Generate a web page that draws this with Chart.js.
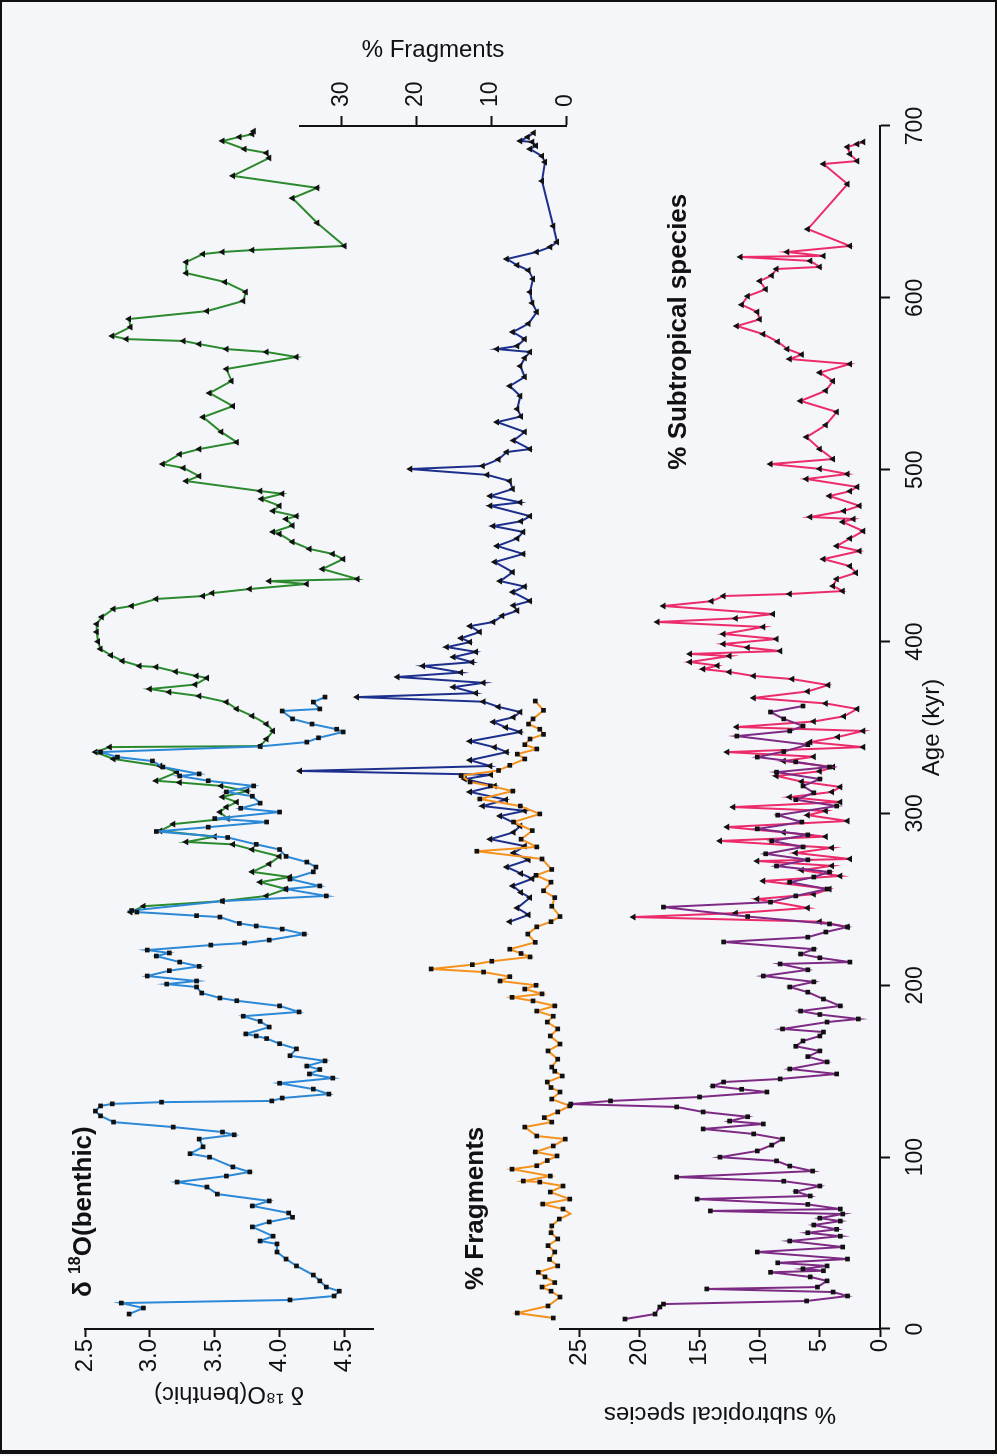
<!DOCTYPE html>
<html>
<head>
<meta charset="utf-8">
<script src="https://cdn.jsdelivr.net/npm/chart.js@4.4.0/dist/chart.umd.min.js"></script>
<style>
  html, body { margin: 0; padding: 0; background: #f5f6f9; }
  #page { position: relative; width: 997px; height: 1456px; overflow: hidden; }
  #frame { position: absolute; left: 0; top: 0; width: 997px; height: 1454px; box-sizing: border-box;
           border: 2px solid #111; border-bottom-width: 4px; }
  /* the figure is drawn landscape and turned a quarter left, like the scan */
  #land { position: absolute; left: 0; top: 0; width: 1456px; height: 997px;
          transform-origin: 0 0; transform: translateY(1456px) rotate(-90deg); }
  #land canvas { position: absolute; left: 0; top: 0; }
</style>
</head>
<body>
<div id="page">
  <div id="land">
    <canvas id="cSub" width="1456" height="997"></canvas>
    <canvas id="cFrag" width="1456" height="997"></canvas>
    <canvas id="cO18" width="1456" height="997"></canvas>
  </div>
  <div id="frame"></div>
</div>
<script>
// ---- data (age in kyr) ----
const ageTicks = [0, 100, 200, 300, 400, 500, 600, 700];
const o18Ticks = [2.5, 3.0, 3.5, 4.0, 4.5];
const fragTicks = [0, 10, 20, 30];
const subTicks = [0, 5, 10, 15, 20, 25];

const o18BlueAge = [8.7, 12.2, 15.1, 16.9, 19.2, 22.0, 24.4, 28.0, 31.4, 36.7, 40.7, 44.8, 49.5, 51.2, 54.0, 59.4, 62.3, 65.0, 67.5, 71.6,
  74.5, 78.5, 82.6, 85.5, 89.0, 91.4, 94.3, 100, 102, 106, 110.5, 113, 114.6, 117.5, 120.4, 124, 126.8, 129.8, 131, 132,
  132.7, 134.4, 136.7, 139.6, 143, 146, 148.4, 151, 153, 156, 159, 163, 166, 169, 170.5, 171.7, 175.7, 179, 182, 184.5,
  188, 191, 192.6, 195.5, 199, 200.7, 202.5, 205.4, 208.5, 211, 213.5, 217, 218.8, 220.5, 223.4, 224.6, 226.3, 229.8, 232.7, 234.5,
  236, 239.7, 240.5, 242.6, 243.5, 249, 252, 256, 257.8, 261.8, 266, 268.8, 271.7, 275, 279, 282, 286, 289.5, 292, 295,
  297, 300.8, 303, 306, 310, 312.5, 316, 319, 321.8, 323, 327, 330.5, 332.8, 335.7, 339, 341.5, 344, 347.4, 349, 352,
  355, 359.6, 360.8, 364.8, 367.7];
const o18BlueVal = [2.84, 2.95, 2.78, 4.08, 4.42, 4.46, 4.36, 4.31, 4.26, 4.13, 4.05, 3.98, 3.98, 3.85, 3.95, 3.79, 3.92, 4.10, 4.07, 3.79,
  3.92, 3.52, 3.44, 3.21, 3.59, 3.77, 3.64, 3.46, 3.31, 3.41, 3.38, 3.65, 3.56, 3.18, 2.72, 2.62, 2.58, 2.62, 2.71, 3.09,
  3.94, 4.02, 4.38, 4.26, 4.00, 4.41, 4.23, 4.31, 4.21, 4.35, 4.08, 4.13, 4.00, 3.90, 3.82, 3.74, 3.92, 3.85, 3.72, 4.15,
  4.00, 3.67, 3.54, 3.40, 3.36, 3.13, 3.36, 2.98, 3.15, 3.38, 3.23, 3.05, 3.15, 2.98, 3.47, 3.73, 3.92, 4.19, 4.02, 3.82,
  3.69, 3.54, 3.36, 2.90, 2.86, 3.56, 4.36, 4.05, 4.31, 4.08, 4.26, 4.28, 4.21, 4.05, 4.00, 3.82, 3.60, 3.05, 3.45, 3.90,
  3.50, 4.00, 3.70, 3.85, 3.79, 3.59, 3.80, 3.45, 3.23, 3.38, 3.10, 3.02, 2.75, 2.62, 3.85, 4.21, 4.30, 4.49, 4.44, 4.25,
  4.10, 4.02, 4.31, 4.26, 4.35];

const o18GreenAge = [242.6, 246, 249, 252, 256, 260, 263, 266, 270.6, 275, 279, 282, 283.4, 286.5, 289.8, 293.8, 297, 300.8, 303.7, 306.6,
  309.6, 313, 316, 318, 319, 324, 327.6, 331.7, 335.7, 338.6, 339.2, 343.3, 348, 352, 356.7, 360.8, 364.8, 368.3, 370.6, 372.4,
  375, 378.8, 380, 382.5, 385.2, 385.8, 388.7, 392, 395.7, 400, 405.6, 410.2, 414.3, 419, 420.7, 424.8, 426.5, 428.2, 430.6, 433.5,
  435.2, 436.4, 442.2, 448, 451, 453.9, 458, 462.6, 463.8, 467.5, 471.3, 473, 476, 479, 483, 486, 487.6, 493.4, 496.3, 501,
  503.3, 509, 512, 516, 522, 530.6, 537, 544.6, 551.6, 558.6, 565.6, 568.5, 570.2, 573.1, 574.9, 576, 577.8, 583, 587.7, 592.3,
  598.2, 603.4, 609.2, 614.4, 620.8, 625.5, 626.7, 627.8, 630.2, 643.6, 658, 664, 671, 681.4, 684.3, 686.6, 691.3, 693.6, 695.3, 697];
const o18GreenVal = [2.85, 2.95, 3.56, 3.90, 4.05, 3.85, 4.08, 3.79, 3.92, 4.00, 3.79, 3.64, 3.28, 3.50, 3.08, 3.18, 3.60, 3.54, 3.59, 3.67,
  3.56, 3.75, 3.55, 3.23, 3.05, 3.21, 3.08, 2.72, 2.58, 2.69, 3.85, 3.90, 3.95, 3.90, 3.79, 3.67, 3.59, 3.38, 3.15, 3.00,
  3.35, 3.44, 3.36, 3.20, 3.05, 2.92, 2.79, 2.70, 2.62, 2.60, 2.59, 2.59, 2.63, 2.72, 2.86, 3.05, 3.41, 3.48, 3.77, 4.21,
  3.92, 4.60, 4.33, 4.49, 4.41, 4.23, 4.10, 4.00, 3.95, 4.10, 4.05, 4.13, 3.95, 4.00, 3.86, 4.02, 3.85, 3.28, 3.38, 3.26,
  3.10, 3.23, 3.38, 3.67, 3.55, 3.41, 3.64, 3.46, 3.63, 3.59, 4.13, 3.90, 3.59, 3.38, 3.26, 2.82, 2.71, 2.85, 2.84, 3.44,
  3.72, 3.74, 3.58, 3.28, 3.28, 3.41, 3.56, 3.79, 4.50, 4.29, 4.10, 4.29, 3.64, 3.92, 3.90, 3.73, 3.56, 3.69, 3.79, 3.80];

const fragOrangeAge = [6.4, 9.3, 13.4, 18.6, 22.0, 24.4, 27.0, 30.3, 33.0, 36.7, 40.5, 44.8, 48.5, 52.4, 56.0, 60.0, 64.0, 67.0, 69.8, 72.7,
  75.6, 79.7, 83.2, 85.5, 86.1, 89.0, 93.0, 95.0, 98.0, 100.7, 103.0, 106.5, 110.5, 112.3, 117.5, 120.4, 123.0, 126.3, 129.8, 133.8,
  137.9, 140.5, 143.7, 147.2, 150.0, 152.4, 157.0, 161.8, 165.8, 170.5, 174.6, 178.6, 182.0, 185.0, 188.0, 190.9, 193.0, 195.0, 197.8, 200.0,
  202.5, 205.0, 207.7, 209.5, 212.0, 214.0, 216.5, 218.5, 221.0, 225.0, 229.8, 234.0, 237.0, 240.0, 246.0, 251.0, 255.0, 260.0, 264.0, 267.4,
  273.5, 278.0, 280.5, 285.0, 290.0, 295.0, 299.7, 304.3, 308.4, 313.0, 316.0, 318.3, 322.0, 325.0, 328.0, 331.7, 334.5, 337.5, 340.0, 343.3,
  346.0, 349.0, 352.0, 355.0, 360.0, 365.4];
const fragOrangeVal = [1.7, 6.5, 2.4, 0.8, 2.0, 3.2, 1.5, 2.8, 3.7, 1.1, 2.2, 1.5, 2.4, 1.1, 2.0, 1.9, 0.9, -0.6, 0.4, 3.1,
  -0.5, 2.1, 0.4, 3.5, 5.7, 2.1, 7.2, 3.9, 2.5, 1.2, 4.1, 1.7, 0.1, 3.9, 5.5, 1.9, 2.9, 1.1, -0.5, 1.9,
  0.8, 2.0, 2.5, 0.5, 1.5, 1.9, 1.1, 2.4, 0.8, 2.1, 1.1, 2.5, 1.7, 3.9, 1.5, 4.4, 7.2, 3.2, 5.5, 4.0,
  8.8, 7.5, 11.0, 18.0, 12.5, 9.9, 4.8, 6.0, 7.5, 4.1, 5.1, 3.9, 2.0, 0.8, 1.9, 1.5, 3.0, 2.0, 4.0, 1.9,
  3.2, 11.9, 3.9, 6.0, 4.5, 7.0, 3.5, 6.1, 11.5, 7.1, 10.1, 12.8, 14.0, 9.0, 7.5, 5.5, 6.5, 3.9, 5.5, 4.8,
  3.0, 3.5, 5.0, 4.4, 3.0, 4.1];

const fragNavyAge = [237.0, 241.0, 245.0, 251.0, 254.0, 257.8, 262.0, 265.0, 268.8, 273.0, 277.0, 281.0, 285.0, 289.0, 292.7, 298.5, 301.5, 304.3, 308.0, 312.5,
  316.0, 320.0, 322.5, 324.7, 327.6, 331.0, 335.7, 338.5, 342.0, 347.4, 350.0, 353.2, 356.0, 359.0, 362.0, 365.0, 367.7, 370.0, 373.5, 376.0,
  379.4, 382.0, 385.8, 388.0, 391.0, 394.0, 396.8, 399.7, 402.0, 405.6, 409.0, 411.4, 415.0, 418.0, 421.0, 423.6, 428.8, 432.0, 435.2, 440.4,
  446.3, 451.0, 455.6, 460.0, 463.8, 467.2, 470.0, 473.0, 479.0, 481.0, 484.7, 488.8, 493.4, 497.0, 500.4, 502.2, 506.0, 510.3, 512.0, 517.0,
  522.0, 527.7, 531.0, 535.3, 542.9, 548.7, 554.0, 560.3, 565.0, 568.5, 570.2, 572.0, 576.0, 580.1, 585.0, 591.8, 597.0, 603.4, 611.0, 616.0,
  619.0, 622.6, 626.7, 629.6, 632.5, 641.8, 668.0, 679.0, 682.5, 686.6, 688.5, 690.7, 691.3, 693.6, 696.0];
const fragNavyVal = [7.5, 5.0, 6.5, 4.8, 6.0, 7.1, 4.5, 6.0, 7.9, 5.0, 7.0, 5.5, 10.1, 7.0, 6.1, 8.8, 5.5, 11.1, 8.0, 12.8,
  9.5, 13.5, 10.0, 35.5, 10.1, 12.8, 7.9, 9.5, 12.8, 6.1, 8.0, 9.7, 7.0, 6.1, 9.0, 11.0, 27.9, 12.0, 15.0, 11.0,
  22.5, 14.0, 19.1, 12.5, 15.0, 12.0, 15.9, 12.8, 14.0, 11.5, 12.8, 9.7, 8.5, 6.5, 7.0, 4.8, 7.1, 5.5, 8.8, 7.1,
  9.5, 5.7, 9.2, 6.5, 5.7, 9.7, 6.0, 4.8, 10.1, 6.1, 10.1, 7.1, 7.5, 10.5, 20.8, 11.1, 9.0, 7.9, 4.8, 7.0,
  5.5, 9.2, 6.0, 6.5, 6.1, 7.5, 5.5, 6.1, 5.5, 4.8, 9.2, 6.5, 5.5, 7.1, 5.0, 3.9, 4.5, 4.8, 4.4, 5.0,
  6.5, 7.9, 3.9, 2.1, 1.2, 1.7, 3.2, 2.8, 3.2, 4.8, 4.0, 4.5, 6.1, 5.1, 4.3];

const subPurpleAge = [5.8, 8.7, 12.8, 14.5, 16.3, 19.2, 21.5, 23.3, 24.4, 28.0, 30.3, 33.0, 33.9, 35.0, 36.7, 38.5, 40.7, 44.8, 47.7, 51.2,
  54.0, 56.0, 58.0, 60.5, 62.8, 64.5, 66.9, 68.7, 69.8, 72.5, 75.6, 77.4, 80.0, 83.2, 86.0, 88.4, 91.9, 94.8, 97.8, 100.0,
  103.6, 107.0, 110.5, 113.5, 116.4, 119.3, 121.0, 123.5, 126.3, 129.2, 130.9, 132.7, 135.0, 137.9, 139.5, 141.4, 143.7, 145.5, 148.4, 151.3,
  155.4, 158.5, 161.8, 164.5, 167.6, 170.5, 172.8, 174.6, 178.6, 180.4, 183.0, 185.0, 188.0, 192.0, 196.0, 199.0, 202.0, 205.4, 209.0, 212.4,
  213.5, 216.0, 218.2, 221.0, 225.2, 228.0, 231.0, 233.9, 235.7, 240.0, 245.5, 248.4, 252.0, 256.0, 260.0, 263.0, 265.9, 269.4, 273.0, 276.5,
  280.5, 284.0, 287.5, 291.0, 295.0, 299.0, 304.3, 308.0, 312.0, 316.0, 320.0, 324.0, 327.0, 330.0, 332.8, 336.0, 340.0, 345.0, 348.0, 350.9,
  355.0, 359.0, 362.5];
const subPurpleVal = [21.2, 18.7, 18.3, 18.0, 6.1, 2.7, 3.9, 14.4, 5.2, 4.4, 5.8, 9.1, 4.7, 6.4, 4.4, 8.5, 2.7, 10.2, 3.1, 7.5,
  3.3, 6.0, 3.6, 5.5, 3.3, 5.0, 3.1, 14.1, 3.3, 6.0, 15.2, 5.8, 7.0, 5.0, 8.0, 16.9, 5.6, 7.5, 8.6, 13.3,
  10.2, 9.0, 8.1, 10.5, 14.7, 9.7, 12.5, 11.0, 14.7, 16.9, 25.7, 22.4, 15.0, 9.4, 11.5, 13.9, 13.0, 8.3, 3.6, 7.5,
  4.4, 6.0, 5.0, 7.0, 6.4, 5.0, 4.7, 8.1, 4.4, 1.8, 5.0, 6.6, 3.3, 4.7, 6.0, 7.5, 5.5, 9.7, 6.0, 8.3,
  2.5, 5.0, 6.6, 5.5, 13.0, 6.0, 4.5, 2.7, 4.2, 11.0, 18.0, 9.1, 7.0, 4.4, 7.5, 5.5, 4.2, 8.6, 6.0, 9.5,
  6.4, 9.0, 6.0, 10.2, 6.5, 8.5, 3.6, 7.0, 5.5, 6.4, 5.0, 8.6, 4.2, 7.0, 10.2, 8.0, 6.0, 11.9, 7.5, 6.4,
  8.0, 9.1, 6.4];

const subPinkAge = [234.0, 237.0, 239.7, 242.0, 245.0, 250.2, 253.0, 256.0, 260.7, 263.6, 267.0, 269.5, 272.3, 273.5, 277.0, 280.0, 284.0, 286.5, 289.0, 292.1,
  295.6, 299.0, 301.5, 303.7, 306.6, 309.5, 312.5, 315.4, 318.5, 321.8, 324.5, 327.0, 330.5, 333.0, 335.7, 338.6, 341.5, 344.5, 348.0, 350.3,
  353.5, 356.5, 360.8, 364.0, 367.2, 371.0, 374.7, 378.2, 380.0, 382.3, 384.0, 386.0, 388.1, 391.6, 392.8, 394.5, 396.5, 398.6, 401.5, 404.4,
  408.5, 411.4, 413.5, 416.0, 420.7, 423.5, 426.5, 427.7, 429.4, 432.3, 436.4, 440.0, 443.9, 448.0, 452.7, 455.6, 460.0, 464.3, 469.6, 471.3,
  472.5, 476.0, 479.0, 484.7, 487.5, 490.0, 494.6, 497.5, 500.5, 503.3, 506.2, 512.0, 519.0, 526.0, 533.6, 540.0, 546.0, 551.6, 556.5, 561.5,
  564.4, 567.0, 570.2, 574.5, 578.9, 583.6, 587.5, 591.8, 596.0, 601.0, 605.0, 609.8, 613.0, 616.8, 618.0, 621.5, 623.8, 624.4, 626.7, 630.2,
  640.0, 666.2, 677.9, 679.6, 683.7, 687.8, 689.5, 690.7];
const subPinkVal = [2.7, 5.0, 20.5, 12.0, 6.0, 10.2, 5.5, 4.2, 9.7, 3.3, 6.5, 4.0, 10.2, 2.5, 7.0, 4.0, 13.3, 4.5, 8.0, 12.7,
  2.7, 6.0, 4.5, 12.2, 3.3, 7.5, 4.0, 3.3, 6.5, 8.6, 5.0, 3.9, 8.0, 5.5, 12.7, 1.4, 5.8, 3.5, 1.4, 11.9,
  5.5, 3.0, 1.9, 4.5, 10.5, 6.0, 4.3, 7.3, 10.5, 12.5, 14.7, 13.5, 15.8, 12.5, 15.8, 8.3, 11.0, 13.0, 8.6, 13.0,
  9.7, 18.5, 12.0, 8.9, 18.0, 14.0, 13.0, 7.5, 3.1, 3.9, 3.6, 2.0, 2.5, 4.7, 1.7, 3.6, 2.5, 1.4, 3.1, 2.2,
  5.8, 3.0, 1.7, 4.2, 2.5, 1.9, 6.1, 2.7, 5.0, 9.1, 3.9, 5.0, 6.1, 4.5, 3.6, 6.6, 4.5, 3.9, 5.0, 2.5,
  7.5, 6.5, 7.7, 8.5, 9.7, 11.9, 10.0, 10.2, 11.5, 11.0, 9.5, 10.0, 9.0, 8.6, 5.0, 5.8, 11.6, 4.7, 7.7, 2.5,
  6.0, 2.7, 4.7, 1.9, 2.5, 2.7, 1.9, 1.4];

// ---- style ----
Chart.defaults.font.family = "'Liberation Sans', Arial, sans-serif";
Chart.defaults.color = '#111';
const INK = '#111';
const LEFT_W = 127, RIGHT_W = 126;   // plot spans age 0..700 between these margins

function pts(ages, vals) {
  return ages.map((a, i) => ({ x: a, y: vals[i] }));
}

function series(ages, vals, color, shape) {
  return {
    data: pts(ages, vals),
    borderColor: color,
    borderWidth: 2,
    tension: 0,
    pointStyle: shape,
    pointRadius: shape === 'triangle' ? 4 : 3.3,
    pointBackgroundColor: INK,
    pointBorderColor: INK,
    pointBorderWidth: 0,
    clip: false
  };
}

function yAxis(o) {
  return {
    position: o.pos,
    min: o.min, max: o.max, reverse: !!o.reverse,
    afterFit: s => { s.width = o.width; },
    afterBuildTicks: s => { s.ticks = o.ticks.map(v => ({ value: v })); },
    ticks: { font: { size: o.tickSize }, color: INK, padding: o.tickPad, callback: o.fmt || (v => v) },
    grid: { drawOnChartArea: false, drawTicks: true, tickLength: o.tickLen, tickWidth: 2, tickColor: INK },
    border: { display: true, color: INK, width: 2 },
    title: { display: true, text: o.title, font: { size: 24 }, color: INK, padding: { top: o.titlePad, bottom: 0 } }
  };
}

// bold label written inside a panel, placed by data coordinates
function panelLabel(parts, age, val) {
  return {
    id: 'panelLabel',
    afterDraw(chart) {
      const ctx = chart.ctx;
      let x = chart.scales.x.getPixelForValue(age);
      const y = chart.scales.y.getPixelForValue(val);
      ctx.save();
      ctx.fillStyle = INK;
      ctx.textBaseline = 'alphabetic';
      parts.forEach(p => {
        ctx.font = 'bold ' + (p.sup ? 16 : 26) + "px 'Liberation Sans', Arial, sans-serif";
        ctx.fillText(p.t, x, p.sup ? y - 11 : y);
        x += ctx.measureText(p.t).width;
      });
      ctx.restore();
    }
  };
}

const base = {
  responsive: false,
  animation: false,
  devicePixelRatio: 1,
  plugins: { legend: { display: false }, tooltip: { enabled: false } }
};
const hiddenX = { type: 'linear', min: 0, max: 700, display: false };

// ---- δ18O panel ----
new Chart(document.getElementById('cO18'), {
  type: 'line',
  data: { datasets: [
    series(o18BlueAge, o18BlueVal, '#2a88d6', 'rect'),
    series(o18GreenAge, o18GreenVal, '#2b8a2e', 'triangle')
  ] },
  options: Object.assign({}, base, {
    layout: { padding: { left: 0, right: RIGHT_W, top: 85, bottom: 997 - 373 } },
    scales: {
      x: hiddenX,
      y: yAxis({ pos: 'left', min: 2.5, max: 4.72, reverse: true, width: LEFT_W, ticks: o18Ticks,
                 tickSize: 24, tickPad: 2, tickLen: 8, fmt: v => v.toFixed(1),
                 title: 'δ ¹⁸O(benthic)', titlePad: 48 })
    }
  }),
  plugins: [panelLabel([{ t: 'δ ' }, { t: '18', sup: true }, { t: 'O(benthic)' }], 18.6, 2.55)]
});

// ---- fragments panel ----
new Chart(document.getElementById('cFrag'), {
  type: 'line',
  data: { datasets: [
    series(fragOrangeAge, fragOrangeVal, '#f5921e', 'rect'),
    series(fragNavyAge, fragNavyVal, '#1d2f8c', 'triangle')
  ] },
  options: Object.assign({}, base, {
    layout: { padding: { left: LEFT_W, right: 0, top: 300, bottom: 997 - 566 } },
    scales: {
      x: hiddenX,
      y: yAxis({ pos: 'right', min: 0, max: 35.5, width: RIGHT_W, ticks: fragTicks,
                 tickSize: 23, tickPad: 9, tickLen: 10, title: '% Fragments', titlePad: 36 })
    }
  }),
  plugins: [panelLabel([{ t: '% Fragments' }], 22.7, 11.1)]
});

// ---- subtropical species panel, carries the age axis ----
new Chart(document.getElementById('cSub'), {
  type: 'line',
  data: { datasets: [
    series(subPurpleAge, subPurpleVal, '#7d2a84', 'rect'),
    series(subPinkAge, subPinkVal, '#ec2b6b', 'triangle')
  ] },
  options: Object.assign({}, base, {
    layout: { padding: { left: 0, right: RIGHT_W, top: 560, bottom: 0 } },
    scales: {
      x: {
        type: 'linear', position: 'bottom', min: 0, max: 700,
        afterFit: s => { s.height = 117; },
        afterBuildTicks: s => { s.ticks = ageTicks.map(v => ({ value: v })); },
        ticks: { font: { size: 23 }, color: INK, padding: 12, maxRotation: 0 },
        grid: { drawOnChartArea: false, drawTicks: true, tickLength: 10, tickWidth: 2, tickColor: INK },
        border: { display: true, color: INK, width: 2 },
        title: { display: true, text: 'Age (kyr)', font: { size: 24 }, color: INK, padding: { top: 0, bottom: 50 } }
      },
      y: yAxis({ pos: 'left', min: 0, max: 26.6, width: LEFT_W, ticks: subTicks,
                 tickSize: 24, tickPad: 2, tickLen: 8, title: '% subtropical species', titlePad: 28 })
    }
  }),
  plugins: [panelLabel([{ t: '% Subtropical species' }], 500, 16.1)]
});
</script>
</body>
</html>
